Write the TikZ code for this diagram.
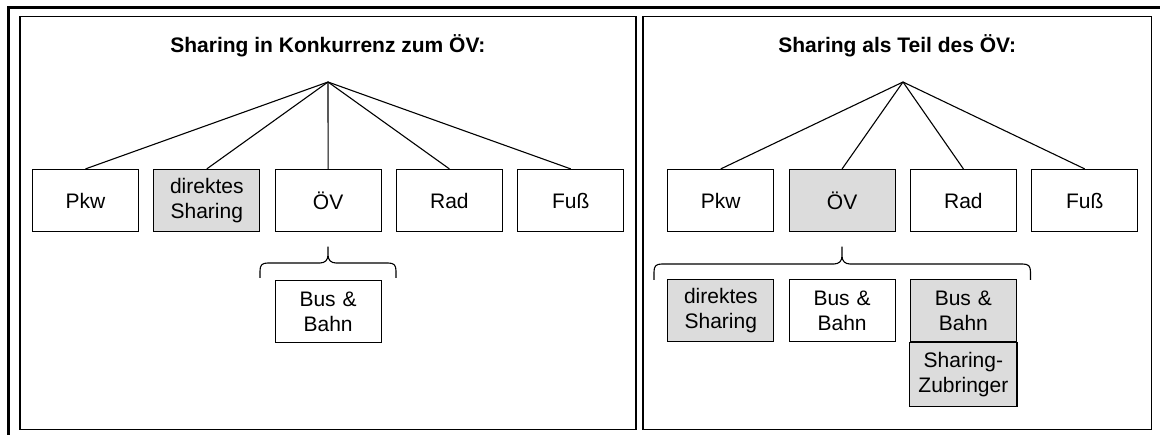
\documentclass[tikz,border=0pt]{standalone}
\usepackage{fontspec}
\setmainfont{Liberation Sans}
\definecolor{boxgray}{RGB}{220,220,220}
\tikzset{
  every node/.style={font=\fontsize{21pt}{25pt}\selectfont},
  cell/.style={draw=black, line width=1.2pt, minimum width=106pt, minimum height=62pt,
               inner sep=0pt, align=center, text width=104pt},
  shaded/.style={cell, fill=boxgray},
  link/.style={line width=1.1pt},
  panel/.style={line width=1.4pt},
  frame/.style={line width=2.7pt},
  heading/.style={font=\bfseries\fontsize{21pt}{25pt}\selectfont, anchor=base},
  bracepen/.style={line width=1.1pt, line join=round},
}
% horizontal curly brace opening downwards:
% #1 left x, #2 right x, #3 tip x, #4 tip y, #5 bar y, #6 end y
\newcommand{\drawcurly}[6]{%
  \draw[bracepen] (#1,#6) -- (#1,{#5+8})
    .. controls (#1,{#5+2}) and ({#1+2},#5) .. ({#1+8},#5)
    -- ({#3-8},#5)
    .. controls ({#3-3},#5) and (#3,{#5-3}) .. (#3,{#5-8})
    -- (#3,#4) -- (#3,{#5-8})
    .. controls (#3,{#5-3}) and ({#3+3},#5) .. ({#3+8},#5)
    -- ({#2-8},#5)
    .. controls ({#2-2},#5) and (#2,{#5+2}) .. (#2,{#5+8})
    -- (#2,#6);}
\begin{document}
\begin{tikzpicture}[x=1pt,y=-1pt]
\useasboundingbox (0,0) rectangle (1160,435);

% outer frame and the two panels
\draw[frame] (8.7,435) -- (8.7,7.3) -- (1160,7.3);
\draw[panel] (19.8,16.7) rectangle (636,429.5);
\draw[panel] (643,16.7) rectangle (1151.3,429.5);

% ---------- left panel ----------
\node[heading] (titleA) at (327.9,52.7) {Sharing in Konkurrenz zum ÖV:};
\coordinate (apexA) at (328,82);
\node[cell]   (pkwA)   at (85.5,200.5)  {Pkw};
\node[shaded] (shareA) at (206.8,200.5) {direktes\\Sharing};
\node[cell]   (oevA)   at (328.1,200.5) {ÖV};
\node[cell]   (radA)   at (449.4,200.5) {Rad};
\node[cell]   (fussA)  at (570.7,200.5) {Fuß};
\foreach \n in {pkwA,shareA,oevA,radA,fussA}
  \draw[link] (apexA) -- (\n.north);
\drawcurly{260}{396}{328}{247}{263}{278}
\node[cell]   (busA)   at (328.1,311.5) {Bus \&\\Bahn};

% ---------- right panel ----------
\node[heading] (titleB) at (897.2,52.7) {Sharing als Teil des ÖV:};
\coordinate (apexB) at (903,82);
\node[cell]   (pkwB)   at (720.8,200.5)  {Pkw};
\node[shaded] (oevB)   at (842.1,200.5)  {ÖV};
\node[cell]   (radB)   at (963.4,200.5)  {Rad};
\node[cell]   (fussB)  at (1084.7,200.5) {Fuß};
\foreach \n in {pkwB,oevB,radB,fussB}
  \draw[link] (apexB) -- (\n.north);
\drawcurly{654}{1030.5}{842}{247}{264}{280}
\node[shaded] (shareB) at (720.8,310.8)  {direktes\\Sharing};
\node[cell]   (busB)   at (842.1,310.8)  {Bus \&\\Bahn};
\node[shaded] (bus2B)  at (963.4,310.8)  {Bus \&\\Bahn};
% feeder box stacked below, sharing the upper box's bottom edge
\node[shaded, draw=none, anchor=north, minimum height=63pt] (zubB) at (bus2B.south) {Sharing-\\Zubringer};
\draw[line width=1.2pt] (bus2B.south west) rectangle (zubB.south east);
\end{tikzpicture}
\end{document}
